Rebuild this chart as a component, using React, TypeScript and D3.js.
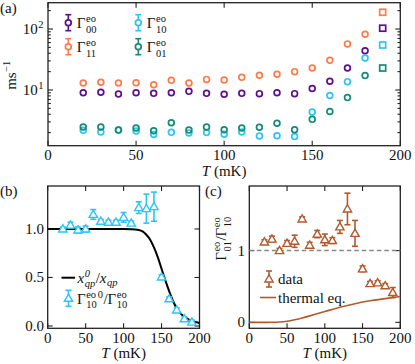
import React, { useEffect, useRef } from 'react';
import * as d3 from 'd3';

// temperatures (mK) of the measured points
const temps = [20, 30, 40, 50, 60, 70, 80, 90, 100, 110, 120, 130, 140, 150, 160, 170, 180, 190];

// panel (a): parity switching rates (ms^-1)
const gamma00 = [9.0, 9.2, 8.6, 9.0, 8.8, 9.0, 9.5, 8.8, 8.5, 8.8, 8.7, 9.0, 8.7, 10.6, 13.9, 22.9, 44, 103];
const gamma11 = [13.0, 13.4, 13.0, 13.1, 12.2, 14.4, 13.0, 14.9, 14.6, 16.1, 17.4, 18.1, 20.0, 22.9, 30.6, 57, 82, 188];
const gamma10 = [2.18, 2.05, 2.2, 2.13, 1.86, 2.02, 1.97, 2.0, 1.88, 2.05, 1.76, 1.78, 1.72, 4.36, 8.1, 13.7, 33.5, 54.6];
const gamma01 = [2.47, 2.47, 2.2, 2.38, 2.15, 2.9, 2.2, 2.47, 2.23, 2.38, 2.45, 2.85, 2.23, 3.3, 4.45, 7.5, 17.2, 22.9];

// panel (b): normalised Gamma10 and x_qp ratio
const ratioB = [1.0, 1.04, 0.99, 1.0, 1.15, 1.08, 1.07, 1.07, 1.12, 1.06, 1.22, 1.21, 1.23, 0.505, 0.28, 0.165, 0.074, 0.04];
const ratioBErr = [0.02, 0.03, 0.03, 0.03, 0.05, 0.02, 0.02, 0.02, 0.05, 0.02, 0.06, 0.15, 0.15, 0.02, 0.02, 0.02, 0.02, 0.02];
const xqpT = [0, 20, 40, 60, 80, 100, 110, 120, 125, 130, 135, 140, 145, 150, 155, 160, 165, 170, 175, 180, 185, 190, 195, 200];
const xqpRatio = [1, 1, 1, 1, 1, 1, 0.998, 0.99, 0.975, 0.94, 0.89, 0.81, 0.71, 0.59, 0.47, 0.36, 0.26, 0.18, 0.13, 0.095, 0.07, 0.05, 0.04, 0.03];

// panel (c): Gamma01 / Gamma10
const ratioC = [1.12, 1.16, 1.0, 1.1, 1.13, 1.44, 1.075, 1.23, 1.15, 1.14, 1.33, 1.58, 1.24, 0.745, 0.54, 0.55, 0.51, 0.415];
const ratioCErr = [0.03, 0.04, 0.03, 0.04, 0.085, 0.03, 0.04, 0.05, 0.08, 0.04, 0.09, 0.22, 0.18, 0.04, 0.03, 0.03, 0.03, 0.07];
const thermalT = [0, 20, 30, 40, 50, 60, 70, 80, 100, 120, 140, 160, 180, 200];
const thermalV = [0, 0, 0.001, 0.005, 0.015, 0.035, 0.06, 0.09, 0.15, 0.21, 0.26, 0.3, 0.33, 0.36];

const xTicks = [0, 50, 100, 150, 200];

const FONT = 'Liberation Serif';
const C00 = '#5b0f8c';
const C11 = '#ff7a4c';
const C10 = '#2ec4f5';
const C01 = '#168a74';
const CB = '#b05a2e';

type Part = { b: string; it?: boolean; sup?: string; sub?: string; scrIt?: boolean };
type Sel = d3.Selection<any, unknown, null, undefined>;

// plain text helper, font set on every element
function txt(parent: Sel, x: number, y: number, s: string | number, size = 15, anchor = 'start') {
  return parent.append('text').attr('x', x).attr('y', y).attr('font-family', FONT)
    .attr('font-size', size).attr('text-anchor', anchor).text(s);
}

// lays out a little bit of "math" text: base + stacked super/subscripts
function mathLabel(parent: Sel, parts: Part[], x: number, y: number, size: number, anchor = 'start', rotate = false) {
  const g = parent.append('g');
  const small = size * 0.7;
  let cx = 0;
  parts.forEach(p => {
    if (p.b) {
      const t = txt(g, cx, 0, p.b, size).attr('font-style', p.it ? 'italic' : 'normal');
      cx += (t.node() as SVGTextElement).getComputedTextLength();
    }
    let w = 0;
    if (p.sup) {
      const s = txt(g, cx + 0.5, -size * 0.4, p.sup, small).attr('font-style', p.scrIt ? 'italic' : 'normal');
      w = Math.max(w, (s.node() as SVGTextElement).getComputedTextLength());
    }
    if (p.sub) {
      const s = txt(g, cx + 0.5, size * (p.sup ? 0.3 : 0.22), p.sub, small).attr('font-style', p.scrIt ? 'italic' : 'normal');
      w = Math.max(w, (s.node() as SVGTextElement).getComputedTextLength());
    }
    if (w) cx += w + 1;
  });
  const off = anchor === 'middle' ? -cx / 2 : anchor === 'end' ? -cx : 0;
  g.attr('transform', rotate
    ? `translate(${x},${y}) rotate(-90) translate(${off},0)`
    : `translate(${x + off},${y})`);
  return g;
}

function frame(g: Sel, x: any, y: any, yTicks: number[], minor: number[] = [], labelGap = 29) {
  const [x0, x1] = x.range();
  const [y0, y1] = y.range();
  const tick = (x1a: number, y1a: number, x2a: number, y2a: number) =>
    g.append('line').attr('x1', x1a).attr('y1', y1a).attr('x2', x2a).attr('y2', y2a)
      .attr('stroke', '#222').attr('stroke-width', 1.1);
  xTicks.forEach(t => {
    const px = x(t);
    tick(px, y0, px, y0 - 5);
    tick(px, y1, px, y1 + 5);
  });
  yTicks.forEach(t => {
    const py = y(t);
    tick(x0, py, x0 + 5, py);
    tick(x1, py, x1 - 5, py);
  });
  minor.forEach(t => {
    const py = y(t);
    tick(x0, py, x0 + 2.8, py);
    tick(x1, py, x1 - 2.8, py);
  });
  g.append('rect').attr('x', x0).attr('y', y1).attr('width', x1 - x0).attr('height', y0 - y1)
    .attr('fill', 'none').attr('stroke', '#222').attr('stroke-width', 1.3);
  xTicks.forEach(t => txt(g, x(t), y0 + 14.5, t, 15, 'middle'));
  mathLabel(g, [{ b: 'T', it: true }, { b: '\u00a0(mK)' }], (x0 + x1) / 2, y0 + labelGap, 15, 'middle');
}

function circles(g: Sel, x: any, y: any, vals: number[], color: string) {
  temps.forEach((t, i) => {
    if (t === 190) {
      g.append('rect').attr('x', x(t) - 3).attr('y', y(vals[i]) - 3).attr('width', 6).attr('height', 6)
        .attr('fill', 'none').attr('stroke', color).attr('stroke-width', 1.7);
    } else {
      g.append('circle').attr('cx', x(t)).attr('cy', y(vals[i])).attr('r', 2.9)
        .attr('fill', 'none').attr('stroke', color).attr('stroke-width', 1.7);
    }
  });
}

function errTri(g: Sel, cx: number, cy: number, lo: number, hi: number, color: string) {
  const s = (x1: number, y1: number, x2: number, y2: number) =>
    g.append('line').attr('x1', x1).attr('y1', y1).attr('x2', x2).attr('y2', y2)
      .attr('stroke', color).attr('stroke-width', 1.6);
  s(cx, lo, cx, hi);
  s(cx - 3, lo, cx + 3, lo);
  s(cx - 3, hi, cx + 3, hi);
  const tri = d3.symbol().type(d3.symbolTriangle).size(30);
  g.append('path').attr('d', tri()).attr('transform', `translate(${cx},${cy + 0.6})`)
    .attr('fill', 'white').attr('stroke', color).attr('stroke-width', 1.4);
}

function errCircle(g: Sel, cx: number, cy: number, color: string) {
  const s = (x1: number, y1: number, x2: number, y2: number) =>
    g.append('line').attr('x1', x1).attr('y1', y1).attr('x2', x2).attr('y2', y2)
      .attr('stroke', color).attr('stroke-width', 1.6);
  s(cx, cy - 8, cx, cy + 8);
  s(cx - 3, cy - 8, cx + 3, cy - 8);
  s(cx - 3, cy + 8, cx + 3, cy + 8);
  g.append('circle').attr('cx', cx).attr('cy', cy).attr('r', 2.9)
    .attr('fill', 'white').attr('stroke', color).attr('stroke-width', 1.7);
}

const App = () => {
  const ref = useRef<SVGSVGElement>(null);

  useEffect(() => {
    const svg = d3.select(ref.current);
    svg.selectAll('*').remove();
    const root = svg.append('g').attr('fill', '#111');

    // ---------- (a) ----------
    const ga = root.append('g');
    const xa = d3.scaleLinear().domain([0, 200]).range([48, 400.3]);
    const ya = d3.scaleLog().domain([1.22, 270]).range([145.7, 2.7]);
    const minorA: number[] = [];
    [1, 10, 100].forEach(k => d3.range(2, 10).forEach(m => {
      const v = m * k;
      if (v > 1.22 && v < 270) minorA.push(v);
    }));
    frame(ga, xa, ya, [10, 100], minorA, 30);
    circles(ga, xa, ya, gamma11, C11);
    circles(ga, xa, ya, gamma00, C00);
    circles(ga, xa, ya, gamma10, C10);
    circles(ga, xa, ya, gamma01, C01);
    [[10, '1'], [100, '2']].forEach(([v, e]) => {
      mathLabel(ga, [{ b: '10', sup: e as string }], 44, ya(v as number) + 5, 15, 'end');
    });
    mathLabel(ga, [{ b: 'ms', sup: '−1' }], 16, 75, 15, 'middle', true);
    const legA: [string, string, number, number][] = [
      ['00', C00, 68.3, 22.7], ['11', C11, 68.3, 46.7], ['10', C10, 138.3, 22.7], ['01', C01, 138.3, 46.7],
    ];
    legA.forEach(([lab, c, lx, ly]) => {
      errCircle(ga, lx, ly, c);
      mathLabel(ga, [{ b: 'Γ', sup: 'eo', sub: lab }], lx + 8.5, ly + 5.5, 15);
    });
    txt(root, 0, 13, '(a)');

    // ---------- (b) ----------
    const gb = root.append('g');
    const xb = d3.scaleLinear().domain([0, 200]).range([47.7, 199.5]);
    const yb = d3.scaleLinear().domain([-0.024, 1.443]).range([328.3, 186]);
    frame(gb, xb, yb, [0, 0.5, 1], [], 29.5);
    [0, 0.5, 1].forEach(v => txt(gb, 44, yb(v) + 5, d3.format('.1f')(v), 15, 'end'));
    gb.append('path').datum(xqpT.map((t, i) => [t, xqpRatio[i]] as [number, number]))
      .attr('d', d3.line().x(d => xb(d[0])).y(d => yb(d[1])).curve(d3.curveMonotoneX))
      .attr('fill', 'none').attr('stroke', '#000').attr('stroke-width', 2);
    temps.forEach((t, i) => {
      errTri(gb, xb(t), yb(ratioB[i]), yb(ratioB[i] - ratioBErr[i]), yb(ratioB[i] + ratioBErr[i]), C10);
    });
    gb.append('line').attr('x1', 61.5).attr('x2', 75).attr('y1', 277.7).attr('y2', 277.7)
      .attr('stroke', '#000').attr('stroke-width', 2);
    mathLabel(gb, [{ b: 'x', it: true, sup: '0', sub: 'qp', scrIt: true }, { b: '/' }, { b: 'x', it: true, sub: 'qp', scrIt: true }],
      77.5, 282.5, 15);
    errTri(gb, 68.5, 298.3, 290.3, 306.3, C10);
    mathLabel(gb, [{ b: 'Γ', sup: 'eo', sub: '10' }, { b: '', sup: '0' }, { b: '/' }, { b: 'Γ', sup: 'eo', sub: '10' }],
      77, 303.5, 15);
    txt(root, 0, 196, '(b)');

    // ---------- (c) ----------
    const gc = root.append('g');
    const xc = d3.scaleLinear().domain([0, 200]).range([249.3, 400.3]);
    const yc = d3.scaleLinear().domain([-0.083, 1.9]).range([328.3, 186]);
    frame(gc, xc, yc, [0, 1], [], 29.5);
    [0, 1].forEach(v => txt(gc, 245, yc(v) + 5, v, 15, 'end'));
    gc.append('line').attr('x1', xc(0)).attr('x2', xc(200)).attr('y1', yc(1)).attr('y2', yc(1))
      .attr('stroke', '#888').attr('stroke-width', 1.5).attr('stroke-dasharray', '4.5,3');
    gc.append('path').datum(thermalT.map((t, i) => [t, thermalV[i]] as [number, number]))
      .attr('d', d3.line().x(d => xc(d[0])).y(d => yc(d[1])).curve(d3.curveMonotoneX))
      .attr('fill', 'none').attr('stroke', CB).attr('stroke-width', 1.6);
    temps.forEach((t, i) => {
      errTri(gc, xc(t), yc(ratioC[i]), yc(ratioC[i] - ratioCErr[i]), yc(ratioC[i] + ratioCErr[i]), CB);
    });
    errTri(gc, 269, 279, 271, 287, CB);
    txt(gc, 278, 284, 'data');
    gc.append('line').attr('x1', 260).attr('x2', 276).attr('y1', 297.5).attr('y2', 297.5)
      .attr('stroke', CB).attr('stroke-width', 1.6);
    txt(gc, 278, 302.5, 'thermal eq.');
    mathLabel(gc, [{ b: 'Γ', sup: 'eo', sub: '01' }, { b: '/' }, { b: 'Γ', sup: 'eo', sub: '10' }],
      226, 238.5, 15, 'middle', true);
    txt(root, 205, 196, '(c)');
  }, []);

  return (
    <svg ref={ref} width={415} height={364} viewBox="0 0 415 364"
      style={{ position: 'absolute', left: 0, top: 0, background: '#fff', fontFamily: 'Liberation Serif, serif' }} />
  );
};

export default App;
